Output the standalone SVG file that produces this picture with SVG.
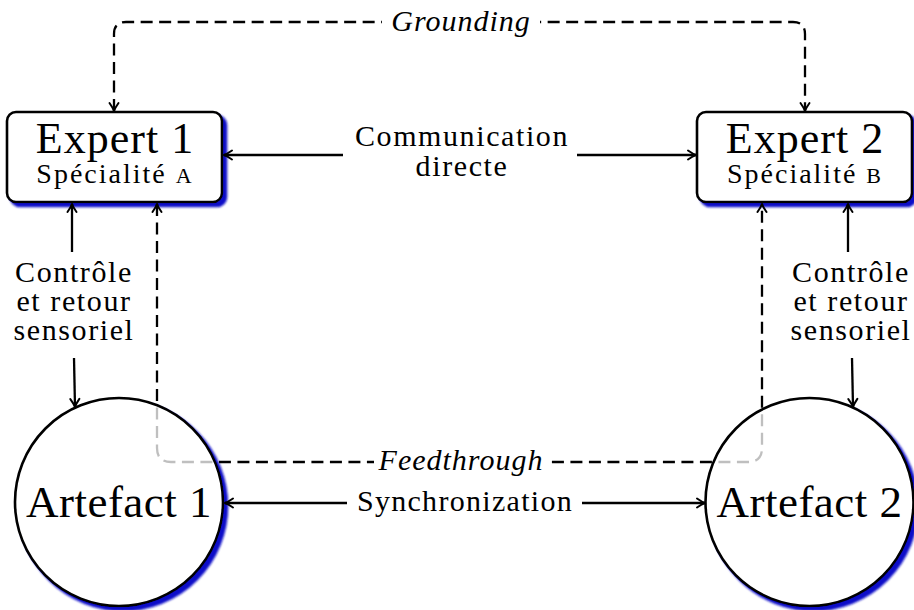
<svg xmlns="http://www.w3.org/2000/svg" width="914" height="610" viewBox="0 0 914 610">
<style>
text{font-family:"Liberation Serif","Times New Roman",serif;fill:#000}
.big{font-size:44px;letter-spacing:1px}
.sub{font-size:28px;letter-spacing:2px}
.lbl{font-size:30px;letter-spacing:1.6px}
.it{font-size:30px;font-style:italic;letter-spacing:1px}
.line{fill:none;stroke:#000;stroke-width:2.3}
.dash{fill:none;stroke:#000;stroke-width:2.3;stroke-dasharray:12 6.5}
.box{fill:#fff;stroke:#000;stroke-width:2.6}
</style>
<defs>
<filter id="shadow" x="-10%" y="-10%" width="130%" height="130%">
<feGaussianBlur in="SourceAlpha" stdDeviation="1.3" result="b"/>
<feOffset in="b" dx="3.5" dy="3.5" result="o"/>
<feFlood flood-color="#1010c8"/>
<feComposite in2="o" operator="in" result="s"/>
<feMerge><feMergeNode in="s"/><feMergeNode in="SourceGraphic"/></feMerge>
</filter>
<marker id="arr" viewBox="-10 -6 12 12" refX="0" refY="0" markerWidth="12" markerHeight="12" markerUnits="userSpaceOnUse" orient="auto-start-reverse">
<path d="M-8,-4.5 Q-3,-1 0,0 Q-3,1 -8,4.5" fill="none" stroke="#000" stroke-width="2" stroke-dasharray="none" stroke-linecap="round" stroke-linejoin="round"/>
</marker>
<mask id="ftmask" maskUnits="userSpaceOnUse" x="0" y="0" width="914" height="610">
<rect x="0" y="0" width="914" height="610" fill="#fff"/>
<circle cx="119" cy="502" r="104" fill="#404040"/>
<circle cx="809.5" cy="502" r="104" fill="#404040"/>
</mask>
</defs>
<rect x="0" y="0" width="914" height="610" fill="#fff"/>

<g id="expert1">
<rect class="box" x="7" y="112" width="215" height="90" rx="9" filter="url(#shadow)"/>
<text class="big" x="115" y="153" text-anchor="middle">Expert 1</text>
<text class="sub" x="115" y="183" text-anchor="middle">Spécialité <tspan font-size="22px">A</tspan></text>
</g>

<g id="expert2">
<rect class="box" x="697" y="112" width="215" height="90" rx="9" filter="url(#shadow)"/>
<text class="big" x="805" y="153" text-anchor="middle">Expert 2</text>
<text class="sub" x="805" y="183" text-anchor="middle">Spécialité <tspan font-size="22px">B</tspan></text>
</g>

<g id="artefact1">
<circle class="box" cx="119" cy="502" r="104" filter="url(#shadow)"/>
<text class="big" x="119" y="517" text-anchor="middle" style="font-size:45px;letter-spacing:0.5px">Artefact 1</text>
</g>

<g id="artefact2">
<circle class="box" cx="809.5" cy="502" r="104" filter="url(#shadow)"/>
<text class="big" x="809.5" y="517" text-anchor="middle" style="font-size:45px;letter-spacing:0.5px">Artefact 2</text>
</g>

<g id="connectors">
<path class="dash" d="M114,111 V34 Q114,22 126,22 H793 Q805,22 805,34 V111" marker-start="url(#arr)" marker-end="url(#arr)"/>
<rect x="382" y="5" width="158" height="34" fill="#fff"/>
<text class="it" x="461" y="31" text-anchor="middle">Grounding</text>

<path class="dash" d="M157,204 V448 Q157,462 171,462 H748 Q762,462 762,448 V204" mask="url(#ftmask)"/>
<path d="M157,222 V204" fill="none" stroke="none" marker-end="url(#arr)"/>
<path d="M762,222 V204" fill="none" stroke="none" marker-end="url(#arr)"/>
<rect x="374" y="445" width="174" height="33" fill="#fff"/>
<text class="it" x="461" y="470" text-anchor="middle">Feedthrough</text>

<path class="line" d="M343,155 H224" marker-end="url(#arr)"/>
<path class="line" d="M577,155 H696" marker-end="url(#arr)"/>
<text class="lbl" x="462" y="146" text-anchor="middle">Communication</text>
<text class="lbl" x="462" y="176" text-anchor="middle">directe</text>

<path class="line" d="M347,503 H225" marker-end="url(#arr)"/>
<path class="line" d="M582,503 H705" marker-end="url(#arr)"/>
<text class="lbl" x="465" y="511" text-anchor="middle" style="letter-spacing:1.3px">Synchronization</text>

<path class="line" d="M72,252 V204" marker-end="url(#arr)"/>
<path class="line" d="M74,358 L75,407" marker-end="url(#arr)"/>
<text class="lbl" x="74" y="282" text-anchor="middle">Contrôle</text>
<text class="lbl" x="74" y="311" text-anchor="middle">et retour</text>
<text class="lbl" x="74" y="340" text-anchor="middle">sensoriel</text>

<path class="line" d="M848,252 V204" marker-end="url(#arr)"/>
<path class="line" d="M852,358 L853,407" marker-end="url(#arr)"/>
<text class="lbl" x="851" y="282" text-anchor="middle">Contrôle</text>
<text class="lbl" x="851" y="311" text-anchor="middle">et retour</text>
<text class="lbl" x="851" y="340" text-anchor="middle">sensoriel</text>
</g>
</svg>
